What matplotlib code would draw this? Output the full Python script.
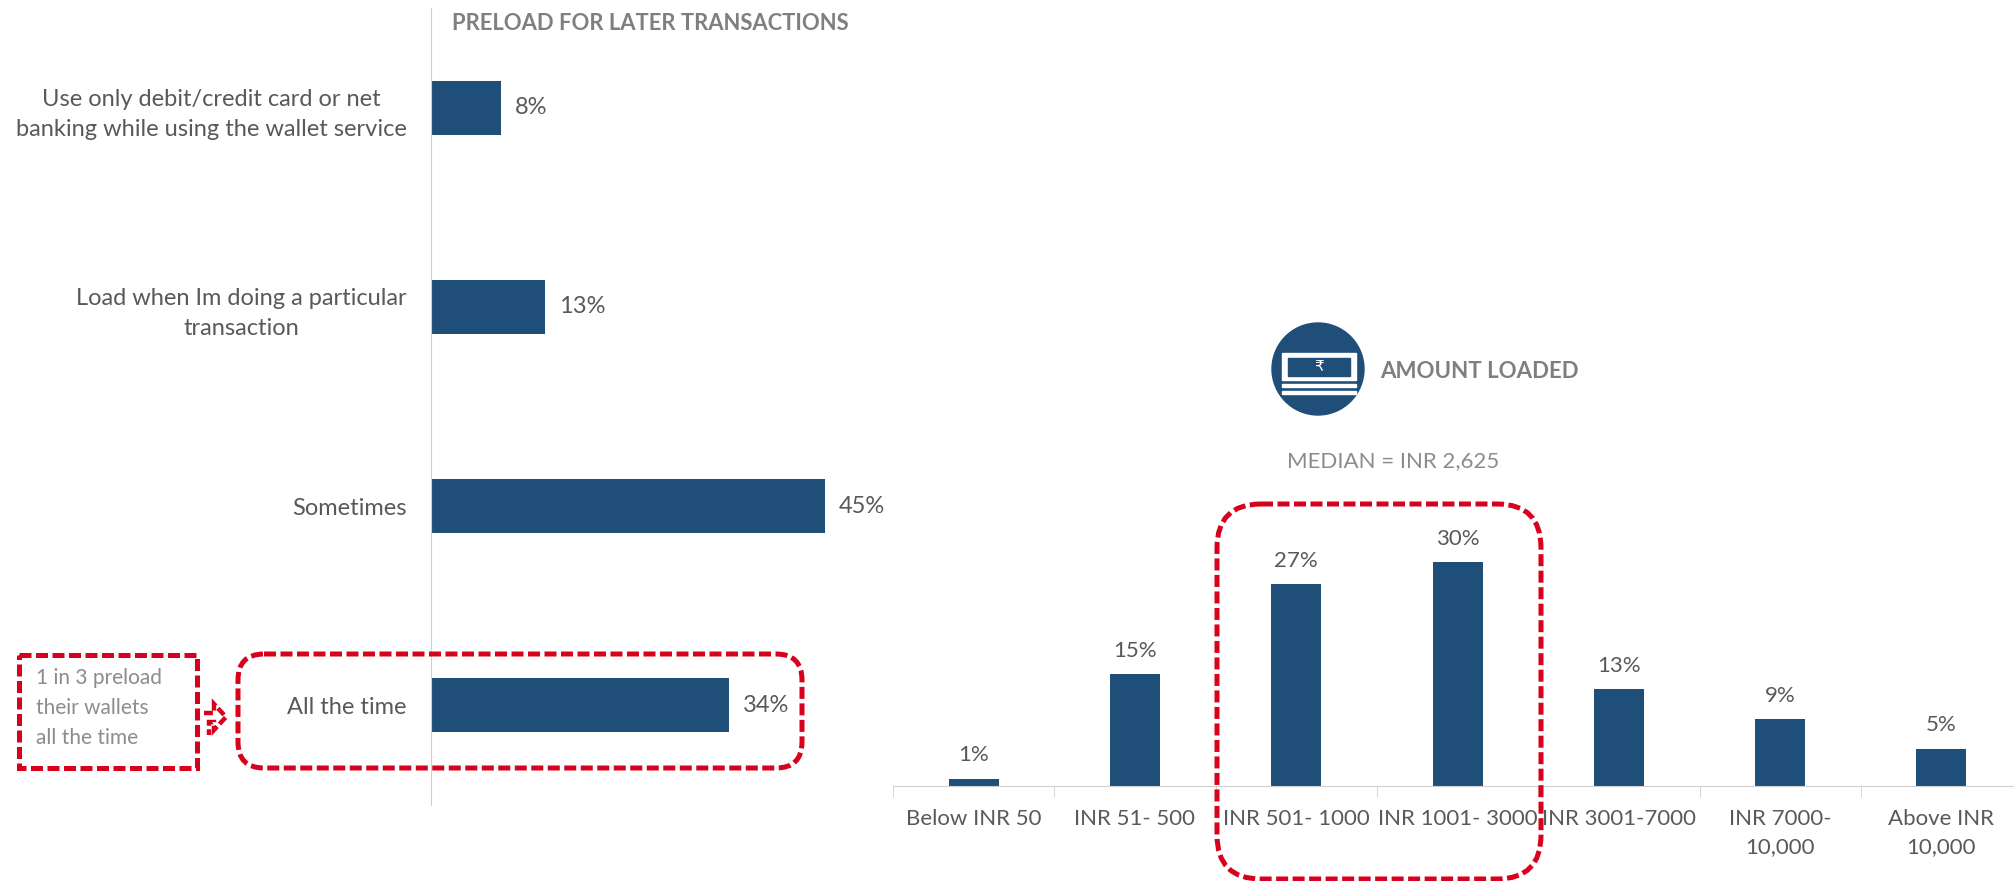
import matplotlib
matplotlib.use('Agg')
import matplotlib.pyplot as plt
from matplotlib.patches import Circle, FancyBboxPatch, Polygon, Rectangle

WIDTH = 2015
HEIGHT = 881

preload_labels = [
    'Use only debit/credit card or net\nbanking while using the wallet service',
    'Load when Im doing a particular\ntransaction',
    'Sometimes',
    'All the time',
]
preload_values = [8, 13, 45, 34]

amount_labels = [
    'Below INR 50',
    'INR 51- 500',
    'INR 501- 1000',
    'INR 1001- 3000',
    'INR 3001-7000',
    'INR 7000-\n10,000',
    'Above INR\n10,000',
]
amount_values = [1, 15, 27, 30, 13, 9, 5]

BLUE = '#1F4E79'
TEXT = '#595959'
LIGHT_TEXT = '#8C8C8C'
AXIS = '#D0D0D0'
RED = '#D8001C'

plt.rcParams['font.family'] = ['Lato', 'DejaVu Sans']


def px_axes(fig, left, top, right, bottom):
    return fig.add_axes([
        left / WIDTH,
        1 - bottom / HEIGHT,
        (right - left) / WIDTH,
        (bottom - top) / HEIGHT,
    ])


fig = plt.figure(figsize=(WIDTH / 100, HEIGHT / 100), dpi=100)

# left chart: 8.76 px per percent
ax = px_axes(fig, 431, 8, 1000, 805)
ax.barh(range(len(preload_values)), preload_values, height=0.27, color=BLUE)
ax.set_xlim(0, 569 / 8.76)
ax.set_ylim(len(preload_values) - 0.5, -0.5)
ax.set_yticks(range(len(preload_labels)))
ax.set_yticklabels(preload_labels, fontsize=17, color=TEXT, linespacing=1.55)
for label in ax.get_yticklabels():
    label.set_multialignment('center')
ax.tick_params(axis='y', length=0, pad=17.5)
ax.xaxis.set_visible(False)
for side in ['top', 'right', 'bottom']:
    ax.spines[side].set_visible(False)
ax.spines['left'].set_color(AXIS)
ax.patch.set_alpha(0)
ax.bar_label(ax.containers[0], fmt='%d%%', padding=10, fontsize=17, color=TEXT)

# right chart: 161.3 px per category, 7.47 px per percent
ax2 = px_axes(fig, 893, 486, 2015, 786)
ax2.bar(range(len(amount_values)), amount_values, width=0.31, color=BLUE)
ax2.set_xlim(-0.5, (2015 - 893) / 161.3 - 0.5)
ax2.set_ylim(0, 300 / 7.47)
ax2.set_xticks(range(len(amount_labels)))
ax2.set_xticklabels(amount_labels, fontsize=16, color=TEXT, linespacing=1.5)
ax2.set_xticks([i - 0.5 for i in range(len(amount_labels))], minor=True)
ax2.tick_params(axis='x', which='major', length=0, pad=16.5)
ax2.tick_params(axis='x', which='minor', length=8, color=AXIS)
ax2.yaxis.set_visible(False)
for side in ['top', 'right', 'left']:
    ax2.spines[side].set_visible(False)
ax2.spines['bottom'].set_color(AXIS)
ax2.patch.set_alpha(0)
ax2.bar_label(ax2.containers[0], fmt='%d%%', padding=9.5, fontsize=16, color=TEXT)

# overlay in pixel coordinates for callouts and headings
over = fig.add_axes([0, 0, 1, 1])
over.set_xlim(0, WIDTH)
over.set_ylim(HEIGHT, 0)
over.axis('off')
over.patch.set_alpha(0)

dash = dict(fill=False, edgecolor=RED, linewidth=3.6, linestyle=(0, (2.4, 0.9)))
over.add_patch(Rectangle((19, 655), 178, 113, **dash))
over.add_patch(FancyBboxPatch((238, 654), 564, 114,
                              boxstyle='round,pad=0,rounding_size=26', **dash))
over.add_patch(FancyBboxPatch((1217, 504), 324, 375,
                              boxstyle='round,pad=0,rounding_size=44', **dash))
over.add_patch(Polygon([(204, 713), (214, 713), (214, 704), (226, 717),
                        (214, 730), (214, 722), (209, 722), (209, 735)],
                       closed=False, fill=False, edgecolor=RED, linewidth=3.2,
                       linestyle=(0, (2.0, 0.8))))

over.text(36, 708, '1 in 3 preload\ntheir wallets\nall the time', fontsize=15,
          color=LIGHT_TEXT, ha='left', va='center', linespacing=1.6)
over.text(452, 23, 'PRELOAD FOR LATER TRANSACTIONS', fontsize=15.8, color='#7F7F7F',
          fontweight='bold', ha='left', va='center')
over.text(1380, 372, 'AMOUNT LOADED', fontsize=16, color='#7F7F7F',
          fontweight='bold', ha='left', va='center')
over.text(1287, 461, 'MEDIAN = INR 2,625', fontsize=16, color=LIGHT_TEXT,
          ha='left', va='center')

# banknote icon
over.add_patch(Circle((1318, 369), 46, color=BLUE))
over.add_patch(Rectangle((1282, 353), 74, 27, color='white'))
over.add_patch(Rectangle((1288, 358), 62, 18, color=BLUE))
over.add_patch(Rectangle((1282, 384), 74, 2.5, color='white'))
over.add_patch(Rectangle((1282, 391), 74, 2.5, color='white'))
over.text(1319, 367, '\u20b9', fontsize=11, color='white', ha='center', va='center',
          family='DejaVu Sans')

fig.savefig('out.png', dpi=100)
